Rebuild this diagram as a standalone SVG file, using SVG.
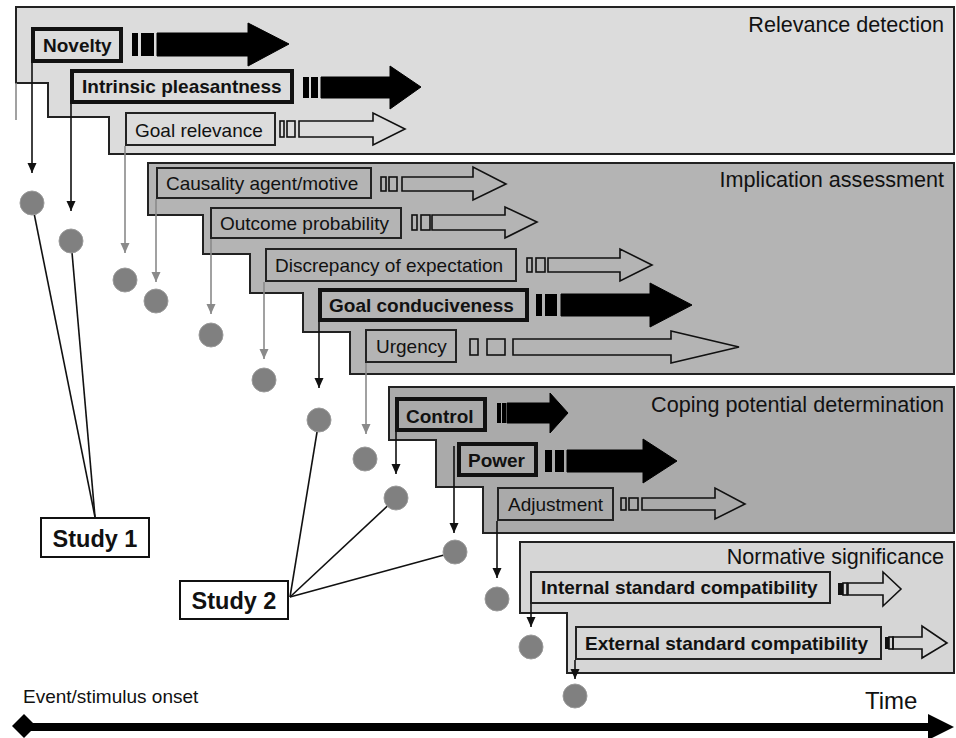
<svg xmlns="http://www.w3.org/2000/svg" width="956" height="738" viewBox="0 0 956 738">
<style>
  text { font-family: "Liberation Sans", Arial, sans-serif; fill: #111; }
  .lbl { font-size: 19px; }
  .bold { font-size: 19px; font-weight: bold; }
  .title { font-size: 21.6px; text-anchor: end; }
  .panel { stroke: #222; stroke-width: 2; }
  .thin { stroke: #222; stroke-width: 2; }
  .thick { stroke: #111; stroke-width: 4; }
  .farrow { fill: #000; stroke: #000; stroke-width: 1; }
  .oarrow { fill: none; stroke: #111; stroke-width: 1.6; }
  .dot { fill: #808080; stroke: #9a9a9a; stroke-width: 1; }
  .blk { stroke: #111; stroke-width: 1.6; fill: none; }
  .gry { stroke: #8a8a8a; stroke-width: 1.6; fill: none; }
  .study { stroke: #111; stroke-width: 1.6; fill: none; }
</style>
<defs>
  <marker id="ahB" markerUnits="userSpaceOnUse" markerWidth="10" markerHeight="10" refX="10" refY="4.5" orient="auto">
    <path d="M0,0 L10,4.5 L0,9 Z" fill="#111"/>
  </marker>
  <marker id="ahG" markerUnits="userSpaceOnUse" markerWidth="10" markerHeight="10" refX="10" refY="4.5" orient="auto">
    <path d="M0,0 L10,4.5 L0,9 Z" fill="#8a8a8a"/>
  </marker>
</defs>

<rect x="0" y="0" width="956" height="738" fill="#ffffff"/>

<!-- Panels -->
<g id="panel-relevance">
  <path class="panel" fill="#dcdcdc" d="M16,7 H954 V154 H109 V117 H48 V83 H16 Z"/>
  <line x1="16" y1="83" x2="16" y2="120" stroke="#8a8a8a" stroke-width="1.6"/>
  <text class="title" x="944" y="32">Relevance detection</text>
</g>
<g id="panel-implication">
  <path class="panel" fill="#b4b4b4" d="M148,163 H954 V374 H350 V332 H303 V293 H250 V254 H203 V215 H148 Z"/>
  <text class="title" x="944" y="187">Implication assessment</text>
</g>
<g id="panel-coping">
  <path class="panel" fill="#aaaaaa" d="M389,387 H954 V533 H483 V487 H436 V440 H389 Z"/>
  <text class="title" x="944" y="412">Coping potential determination</text>
</g>
<g id="panel-normative">
  <path class="panel" fill="#d6d6d6" d="M520,542 H954 V673 H567 V613 H520 Z"/>
  <text class="title" x="944" y="564">Normative significance</text>
</g>

<!-- Connectors -->
<g id="connectors">
  <line class="blk" x1="32" y1="63" x2="32" y2="173" marker-end="url(#ahB)"/>
  <line class="blk" x1="71" y1="104" x2="71" y2="211" marker-end="url(#ahB)"/>
  <line class="gry" x1="125" y1="146" x2="125" y2="253" marker-end="url(#ahG)"/>
  <line class="gry" x1="156" y1="199" x2="156" y2="282" marker-end="url(#ahG)"/>
  <line class="gry" x1="211" y1="239" x2="211" y2="314" marker-end="url(#ahG)"/>
  <line class="gry" x1="264" y1="282" x2="264" y2="359" marker-end="url(#ahG)"/>
  <line class="blk" x1="319" y1="322" x2="319" y2="388" marker-end="url(#ahB)"/>
  <line class="gry" x1="366" y1="363" x2="366" y2="434" marker-end="url(#ahG)"/>
  <line class="blk" x1="396" y1="432" x2="396" y2="474" marker-end="url(#ahB)"/>
  <line class="blk" x1="454" y1="446" x2="454" y2="533" marker-end="url(#ahB)"/>
  <line class="blk" x1="497" y1="521" x2="497" y2="578" marker-end="url(#ahB)"/>
  <line class="blk" x1="531" y1="604" x2="531" y2="627" marker-end="url(#ahB)"/>
  <line class="blk" x1="575" y1="660" x2="575" y2="679" marker-end="url(#ahB)"/>
  <!-- Study links -->
  <line class="study" x1="95" y1="517" x2="32" y2="203"/>
  <line class="study" x1="95" y1="517" x2="71" y2="241"/>
  <line class="study" x1="290" y1="597" x2="319" y2="420"/>
  <line class="study" x1="290" y1="597" x2="396" y2="498"/>
  <line class="study" x1="290" y1="597" x2="455" y2="552"/>
</g>

<!-- Relevance detection nodes -->
<g id="novelty">
  <rect class="thick" fill="#dcdcdc" x="33" y="29" width="88" height="32"/>
  <text class="bold" x="43" y="52">Novelty</text>
  <rect x="132" y="33" width="6" height="23" fill="#000"/>
  <rect x="141" y="33" width="13" height="23" fill="#000"/>
  <path class="farrow" d="M157,33 L248,33 L248,23 L289,44 L248,66 L248,56 L157,56 Z"/>
</g>
<g id="intrinsic-pleasantness">
  <rect class="thick" fill="#dcdcdc" x="72" y="71" width="220" height="31"/>
  <text class="bold" x="82" y="93">Intrinsic pleasantness</text>
  <rect x="303" y="77" width="6" height="21" fill="#000"/>
  <rect x="311" y="77" width="7" height="21" fill="#000"/>
  <path class="farrow" d="M321,77 L390,77 L390,66 L421,87 L390,109 L390,98 L321,98 Z"/>
</g>
<g id="goal-relevance">
  <rect class="thin" fill="#dcdcdc" x="126" y="113" width="149" height="32"/>
  <text class="lbl" x="135" y="137">Goal relevance</text>
  <rect class="oarrow" x="280" y="121" width="4" height="16"/>
  <rect class="oarrow" x="287" y="121" width="8" height="16"/>
  <path class="oarrow" d="M299,121 L373,121 L373,113 L405,129 L373,145 L373,137 L299,137 Z"/>
</g>

<!-- Implication assessment nodes -->
<g id="causality">
  <rect class="thin" fill="#b4b4b4" x="157" y="168" width="214" height="30"/>
  <text class="lbl" x="166" y="190">Causality agent/motive</text>
  <rect class="oarrow" x="381" y="177" width="5" height="14"/>
  <rect class="oarrow" x="389" y="177" width="8" height="14"/>
  <path class="oarrow" d="M402,177 L473,177 L473,167 L506,184 L473,200 L473,191 L402,191 Z"/>
</g>
<g id="outcome-probability">
  <rect class="thin" fill="#b4b4b4" x="211" y="208" width="190" height="30"/>
  <text class="lbl" x="220" y="230">Outcome probability</text>
  <rect class="oarrow" x="412" y="215" width="5" height="15"/>
  <rect class="oarrow" x="421" y="215" width="9" height="15"/>
  <path class="oarrow" d="M432,215 L505,215 L505,207 L537,222 L505,238 L505,230 L432,230 Z"/>
</g>
<g id="discrepancy">
  <rect class="thin" fill="#b4b4b4" x="266" y="249" width="250" height="32"/>
  <text class="lbl" x="275" y="272">Discrepancy of expectation</text>
  <rect class="oarrow" x="527" y="258" width="5" height="14"/>
  <rect class="oarrow" x="536" y="258" width="9" height="14"/>
  <path class="oarrow" d="M548,258 L620,258 L620,249 L652,265 L620,281 L620,272 L548,272 Z"/>
</g>
<g id="goal-conduciveness">
  <rect class="thick" fill="#b4b4b4" x="320" y="290" width="207" height="30"/>
  <text class="bold" x="329" y="312">Goal conduciveness</text>
  <rect x="536" y="294" width="6" height="22" fill="#000"/>
  <rect x="545" y="294" width="12" height="22" fill="#000"/>
  <path class="farrow" d="M561,294 L650,294 L650,283 L692,305 L650,327 L650,316 L561,316 Z"/>
</g>
<g id="urgency">
  <rect class="thin" fill="#b4b4b4" x="366" y="330" width="90" height="32"/>
  <text class="lbl" x="376" y="353">Urgency</text>
  <rect class="oarrow" x="470" y="339" width="8" height="16"/>
  <rect class="oarrow" x="487" y="339" width="18" height="16"/>
  <path class="oarrow" d="M513,339 L671,339 L671,331 L739,347 L671,363 L671,355 L513,355 Z"/>
</g>

<!-- Coping potential nodes -->
<g id="control">
  <rect class="thick" fill="#aaaaaa" x="397" y="399" width="88" height="31"/>
  <text class="bold" x="406" y="423">Control</text>
  <rect x="497" y="403" width="4" height="20" fill="#000"/>
  <rect x="502" y="403" width="4" height="20" fill="#000"/>
  <path class="farrow" d="M507,403 L550,403 L550,393 L568,413 L550,433 L550,423 L507,423 Z"/>
</g>
<g id="power">
  <rect class="thick" fill="#aaaaaa" x="459" y="444" width="77" height="31"/>
  <text class="bold" x="468" y="467">Power</text>
  <rect x="545" y="450" width="7" height="22" fill="#000"/>
  <rect x="555" y="450" width="9" height="22" fill="#000"/>
  <path class="farrow" d="M567,450 L643,450 L643,439 L677,461 L643,483 L643,472 L567,472 Z"/>
</g>
<g id="adjustment">
  <rect class="thin" fill="#aaaaaa" x="498" y="488" width="115" height="32"/>
  <text class="lbl" x="508" y="511">Adjustment</text>
  <rect class="oarrow" x="621" y="498" width="5" height="12"/>
  <rect class="oarrow" x="629" y="498" width="9" height="12"/>
  <path class="oarrow" d="M642,498 L715,498 L715,488 L745,504 L715,519 L715,510 L642,510 Z"/>
</g>

<!-- Normative significance nodes -->
<g id="internal-standard">
  <rect class="thin" fill="#d6d6d6" x="531" y="572" width="299" height="31"/>
  <text class="bold" x="541" y="594">Internal standard compatibility</text>
  <rect x="838" y="583" width="5" height="12" fill="#111"/>
  <rect class="oarrow" x="843" y="583" width="4" height="12"/>
  <path class="oarrow" d="M848,583 L883,583 L883,572 L901,589 L883,606 L883,595 L848,595 Z"/>
</g>
<g id="external-standard">
  <rect class="thin" fill="#d6d6d6" x="576" y="627" width="305" height="32"/>
  <text class="bold" x="585" y="650">External standard compatibility</text>
  <rect x="885" y="637" width="4" height="12" fill="#111"/>
  <rect class="oarrow" x="889" y="637" width="4" height="12"/>
  <path class="oarrow" d="M893,637 L922,637 L922,626 L947,643 L922,658 L922,649 L893,649 Z"/>
</g>

<!-- Dots -->
<g id="dots">
  <circle class="dot" cx="32" cy="203" r="12"/>
  <circle class="dot" cx="71" cy="241" r="12"/>
  <circle class="dot" cx="125" cy="280" r="12"/>
  <circle class="dot" cx="156" cy="301" r="12"/>
  <circle class="dot" cx="211" cy="335" r="12"/>
  <circle class="dot" cx="264" cy="380" r="12"/>
  <circle class="dot" cx="319" cy="420" r="12"/>
  <circle class="dot" cx="365" cy="459" r="12"/>
  <circle class="dot" cx="396" cy="498" r="12"/>
  <circle class="dot" cx="455" cy="552" r="12"/>
  <circle class="dot" cx="497" cy="599" r="12"/>
  <circle class="dot" cx="531" cy="647" r="12"/>
  <circle class="dot" cx="575" cy="696" r="12"/>
</g>

<!-- Study boxes -->
<g id="study1">
  <rect x="41" y="518" width="108" height="39" fill="#fff" stroke="#111" stroke-width="2"/>
  <text x="95" y="547" font-size="23.5" font-weight="bold" text-anchor="middle">Study 1</text>
</g>
<g id="study2">
  <rect x="180" y="581" width="108" height="38" fill="#fff" stroke="#111" stroke-width="2"/>
  <text x="234" y="609" font-size="23.5" font-weight="bold" text-anchor="middle">Study 2</text>
</g>

<!-- Time axis -->
<g id="time-axis">
  <text x="23" y="703" font-size="19">Event/stimulus onset</text>
  <text x="865" y="709" font-size="24">Time</text>
  <line x1="24" y1="727" x2="932" y2="727" stroke="#000" stroke-width="8"/>
  <polygon points="12,726 24,714 36,726 24,738" fill="#000"/>
  <polygon points="928,714 954,727 928,740" fill="#000"/>
</g>
</svg>
